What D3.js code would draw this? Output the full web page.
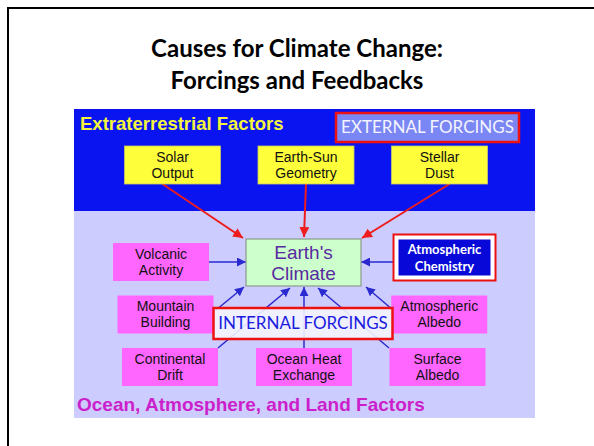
<!DOCTYPE html>
<html>
<head>
<meta charset="utf-8">
<script src="https://cdn.jsdelivr.net/npm/d3@7"></script>
<style>
  body { margin: 0; background: #fff; }
  svg { display: block; }
</style>
</head>
<body>
<div id="chart"></div>
<script>
// slide size
const width = 594;
const height = 446;

// text content of the diagram
const titleLines = ["Causes for Climate Change:", "Forcings and Feedbacks"];
const externalFactors = [["Solar", "Output"], ["Earth-Sun", "Geometry"], ["Stellar", "Dust"]];
const leftFactors = [["Volcanic", "Activity"], ["Mountain", "Building"], ["Continental", "Drift"]];
const rightFactors = [["Atmospheric", "Chemistry"], ["Atmospheric", "Albedo"], ["Surface", "Albedo"]];
const bottomFactor = ["Ocean Heat", "Exchange"];
const centerLabel = ["Earth's", "Climate"];
const topBandLabel = "Extraterrestrial Factors";
const bottomBandLabel = "Ocean, Atmosphere, and Land Factors";
const externalTag = "EXTERNAL FORCINGS";
const internalTag = "INTERNAL FORCINGS";

const svg = d3.select("#chart")
  .append("svg")
  .attr("width", width)
  .attr("height", height);

// arrow heads
const defs = svg.append("defs");
[["redHead", "#ee1c1c", 5], ["blueHead", "#2a2ad0", 6]].forEach(([id, c, s]) => {
  defs.append("marker")
    .attr("id", id)
    .attr("viewBox", "0 0 10 10")
    .attr("refX", 10).attr("refY", 5)
    .attr("markerWidth", s)
    .attr("markerHeight", s)
    .attr("markerUnits", "strokeWidth")
    .attr("orient", "auto")
    .append("path")
    .attr("d", "M0,0 L10,5 L0,10 z")
    .attr("fill", c);
});

// slide frame
svg.append("rect")
  .attr("x", 8).attr("y", 8)
  .attr("width", width + 20).attr("height", height + 20)
  .attr("fill", "none")
  .attr("stroke", "#000")
  .attr("stroke-width", 2);

// title
svg.append("g").selectAll("text")
  .data(titleLines)
  .join("text")
  .attr("x", 297)
  .attr("y", (d, i) => 57 + i * 32)
  .attr("text-anchor", "middle")
  .attr("font-family", "Lato, 'Open Sans', sans-serif")
  .attr("font-weight", "bold")
  .attr("font-size", 24)
  .attr("fill", "#000")
  .text(d => d);

// picture area
const pic = {x0: 74, x1: 535, y0: 109, ySplit: 211, y1: 418};
svg.append("rect")
  .attr("x", pic.x0).attr("y", pic.ySplit)
  .attr("width", pic.x1 - pic.x0).attr("height", pic.y1 - pic.ySplit)
  .attr("fill", "#ccccfe");
svg.append("rect")
  .attr("x", pic.x0).attr("y", pic.y0)
  .attr("width", pic.x1 - pic.x0).attr("height", pic.ySplit - pic.y0)
  .attr("fill", "#0a14f0");

svg.append("text")
  .attr("x", 80).attr("y", 130)
  .attr("font-family", "'Liberation Sans', Arial, sans-serif")
  .attr("font-weight", "bold")
  .attr("font-size", 18.5)
  .attr("fill", "#f4f43c")
  .text(topBandLabel);

svg.append("text")
  .attr("x", 77).attr("y", 411)
  .attr("font-family", "'Liberation Sans', Arial, sans-serif")
  .attr("font-weight", "bold")
  .attr("font-size", 19)
  .attr("fill", "#cc1fcc")
  .text(bottomBandLabel);

// layout scales
const xTop = d3.scalePoint().domain(d3.range(externalFactors.length)).range([172.5, 439.5]);
const yRows = d3.scalePoint().domain(d3.range(leftFactors.length)).range([262, 367]);
const xLeft = d3.scalePoint().domain(d3.range(leftFactors.length)).range([161, 170]);
const xRight = d3.scalePoint().domain(d3.range(rightFactors.length)).range([441, 437.5]);
const boxW = 96, boxH = 38;
const center = {x: 303.5, y: 262.5, w: 115, h: 47};

// arrows first so that boxes sit above them
const red = "#ee1c1c", blue = "#2a2ad0";
const redTargets = [[243, 238], [304, 237], [362, 238]];
svg.append("g").selectAll("line")
  .data(externalFactors)
  .join("line")
  .attr("x1", (d, i) => xTop(i) + (i - 1) * 10)
  .attr("y1", 184)
  .attr("x2", (d, i) => redTargets[i][0])
  .attr("y2", (d, i) => redTargets[i][1])
  .attr("stroke", red)
  .attr("stroke-width", 2)
  .attr("marker-end", "url(#redHead)");

const blueLinks = [
  [xLeft(0) + boxW / 2, yRows(0), center.x - center.w / 2, yRows(0)],
  [xRight(0) - 48, yRows(0), center.x + center.w / 2, yRows(0)],
  [216, 310, 244, 287],
  [218, 348, 290, 288],
  [304, 348, 304, 287],
  [389, 348, 318, 288],
  [393, 310, 366, 287]
];
svg.append("g").selectAll("line")
  .data(blueLinks)
  .join("line")
  .attr("x1", d => d[0]).attr("y1", d => d[1])
  .attr("x2", d => d[2]).attr("y2", d => d[3])
  .attr("stroke", blue)
  .attr("stroke-width", 1.5)
  .attr("marker-end", "url(#blueHead)");

// box helper
function box(g, cx, cy, w, h, lines, opt) {
  const b = g.append("g");
  b.append("rect")
    .attr("x", cx - w / 2).attr("y", cy - h / 2)
    .attr("width", w).attr("height", h)
    .attr("fill", opt.fill)
    .attr("stroke", opt.stroke || "none")
    .attr("stroke-width", opt.sw || 1);
  const lh = opt.lh || 16;
  b.selectAll("text")
    .data(lines)
    .join("text")
    .attr("x", cx)
    .attr("y", (d, i) => cy + (i - (lines.length - 1) / 2) * lh)
    .attr("dy", "0.35em")
    .attr("text-anchor", "middle")
    .attr("font-family", opt.font || "'Liberation Sans', Arial, sans-serif")
    .attr("font-weight", opt.weight || "normal")
    .attr("font-size", opt.size || 14)
    .attr("fill", opt.color || "#111")
    .text(d => d);
  return b;
}

const boxes = svg.append("g");
externalFactors.forEach((d, i) => {
  box(boxes, xTop(i), 165, boxW, boxH, d, {fill: "#fefe3a", stroke: "#c8c86a", sw: 0.8});
});

box(boxes, center.x, center.y, center.w, center.h, centerLabel,
  {fill: "#ccffcc", stroke: "#8a9a8a", sw: 1.2, size: 19, lh: 21, color: "#5a2aa0"});

leftFactors.forEach((d, i) => {
  box(boxes, xLeft(i), yRows(i), boxW, boxH, d, {fill: "#ff66ff"});
});
rightFactors.forEach((d, i) => {
  if (i == 0) return;
  box(boxes, xRight(i), yRows(i), boxW, boxH, d, {fill: "#ff66ff"});
});
box(boxes, 304, 367, boxW, boxH, bottomFactor, {fill: "#ff66ff"});

// highlighted atmospheric chemistry box
const chem = boxes.append("g");
chem.append("rect")
  .attr("x", 393.5).attr("y", 234.5).attr("width", 102).attr("height", 46)
  .attr("fill", "#fff").attr("stroke", "#ee1111").attr("stroke-width", 2);
box(chem, 444.5, 257.5, 92, 36, rightFactors[0],
  {fill: "#0808d8", color: "#fff", weight: "bold", size: 13, lh: 17,
   font: "Lato, 'Open Sans', sans-serif"});

// forcing tags
box(boxes, 427.5, 127.5, 183, 29, [externalTag],
  {fill: "#7a86f4", stroke: "#ee1111", sw: 2.5, size: 17, color: "#f4f4ff",
   font: "Lato, 'Open Sans', sans-serif"});
box(boxes, 303, 323.5, 179, 31, [internalTag],
  {fill: "rgba(244,244,255,0.9)", stroke: "#ee1111", sw: 2.5, size: 17, color: "#1a1ae0",
   font: "Lato, 'Open Sans', sans-serif"});
</script>
</body>
</html>
